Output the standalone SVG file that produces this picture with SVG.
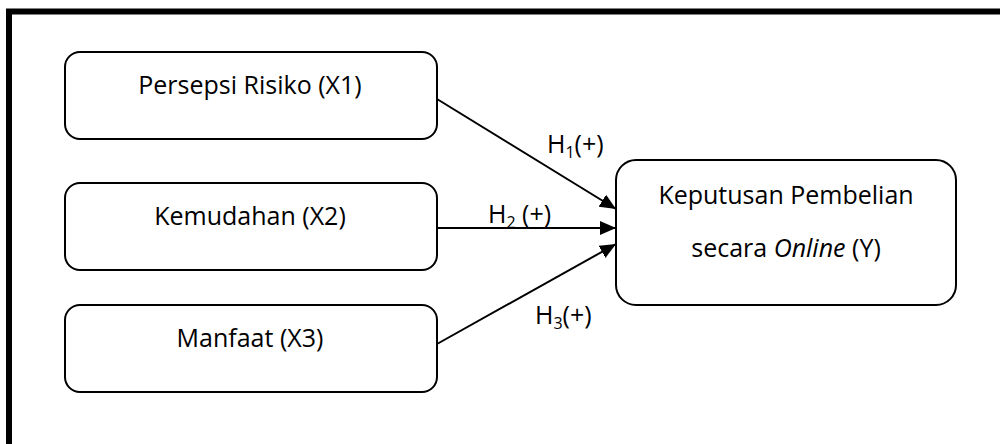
<svg xmlns="http://www.w3.org/2000/svg" width="1000" height="444" viewBox="0 0 1000 444">
<style>
.box{fill:#fff;stroke:#000;stroke-width:2}
.t{font-family:"Open Sans","Noto Sans",sans-serif;font-size:25px;fill:#000;text-anchor:middle}
.h{font-family:"Open Sans","Noto Sans",sans-serif;font-size:25px;fill:#000}
.sub{font-size:16px}
.c{stroke:#000;stroke-width:2;fill:none}
</style>
<defs>
<marker id="ah" markerUnits="userSpaceOnUse" markerWidth="16" markerHeight="14" refX="16" refY="7" orient="auto">
<path d="M0,0 L16,7 L0,14 Z" fill="#000"/>
</marker>
</defs>
<rect width="1000" height="444" fill="#fff"/>
<path d="M9,444 V11.5 H1000" fill="none" stroke="#000" stroke-width="6"/>
<g id="connectors">
<line class="c" x1="437" y1="99" x2="616" y2="209" marker-end="url(#ah)"/>
<line class="c" x1="437" y1="228" x2="616" y2="228" marker-end="url(#ah)"/>
<line class="c" x1="437" y1="344" x2="616" y2="244" marker-end="url(#ah)"/>
<text class="h" x="547" y="153">H<tspan class="sub" dy="5">1</tspan><tspan dy="-5">(+)</tspan></text>
<text class="h" x="488" y="223">H<tspan class="sub" dy="5">2</tspan><tspan dy="-5"> (+)</tspan></text>
<text class="h" x="535" y="324">H<tspan class="sub" dy="5">3</tspan><tspan dy="-5">(+)</tspan></text>
</g>
<g id="x1">
<rect class="box" x="65" y="52" width="372" height="87" rx="15"/>
<text class="t" x="250" y="94">Persepsi Risiko (X1)</text>
</g>
<g id="x2">
<rect class="box" x="65" y="183" width="372" height="87" rx="15"/>
<text class="t" x="250" y="225">Kemudahan (X2)</text>
</g>
<g id="x3">
<rect class="box" x="65" y="305" width="372" height="87" rx="15"/>
<text class="t" x="250" y="347">Manfaat (X3)</text>
</g>
<g id="y">
<rect class="box" x="616" y="160" width="340" height="145" rx="20"/>
<text class="t" x="786" y="204">Keputusan Pembelian</text>
<text class="t" x="786" y="257">secara <tspan font-style="italic">Online</tspan> (Y)</text>
</g>
</svg>
